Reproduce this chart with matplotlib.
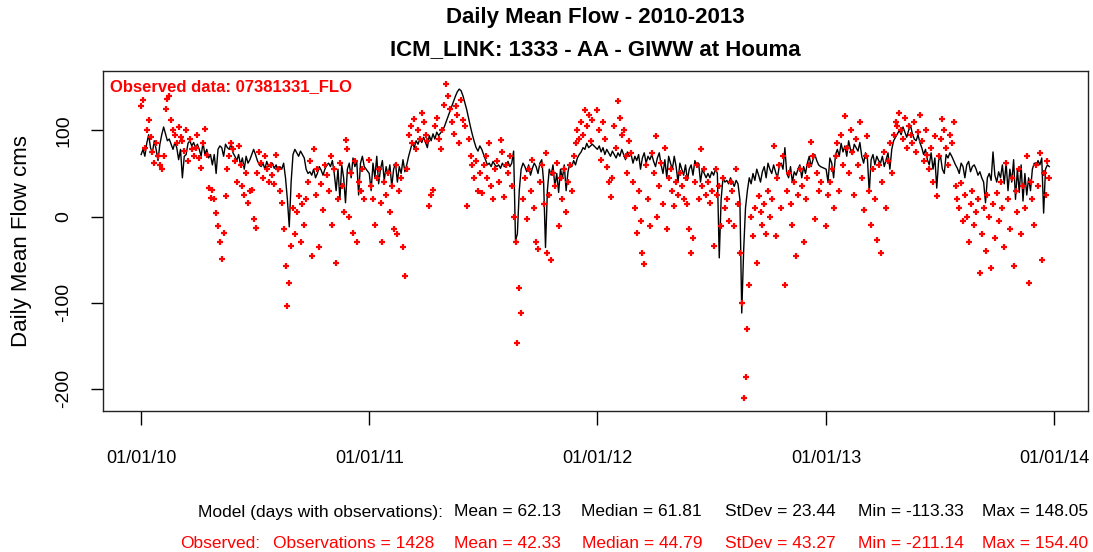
import numpy as np
import matplotlib
matplotlib.use("Agg")
import matplotlib.pyplot as plt

plt.rcParams["font.family"] = ["Liberation Sans", "DejaVu Sans"]

# Model daily mean flow (cms), read every 3 days from the picture, one list per year
model_2010 = [72, 78, 70, 85, 95, 80, 74, 88, 78, 65,
              84, 95, 104, 96, 88, 90, 84, 78, 86, 80,
              66, 78, 45, 70, 72, 85, 88, 82, 86, 80,
              84, 78, 70, 86, 72, 78, 68, 72, 60, 72,
              50, 78, 82, 80, 70, 84, 80, 78, 85, 74,
              70, 65, 72, 60, 68, 55, 70, 62, 66, 72,
              78, 72, 65, 60, 58, 62, 55, 64, 58, 60,
              62, 56, 60, 52, 58, 55, 62, 45, 20, -12,
              40, 72, 78, 74, 70, 76, 72, 68, 55, 50,
              52, 48, 55, 45, 50, 58, 54, 48, 55, 60,
              62, 58, 65, 50, 30, 55, 20, 60, 45, 16,
              55, 62, 45, 68, 58, 64, 25, 62, 70, 58, 55]
model_2011 = [50, 30, 62, 45, 70, 38, 55, 65, 42, 58,
              48, 60, 35, 55, 62, 40, 58, 50, 66,
              52, 60, 70, 78, 86, 80, 88, 84, 90, 86,
              92, 86, 80, 94, 88, 96, 90, 98, 94, 97,
              100, 104, 110, 116, 122, 128, 134, 140, 145, 148,
              146, 140, 132, 124, 114, 104, 95, 87, 80, 76,
              82, 78, 72, 66, 60, 62, 58, 64, 60, 58,
              60, 56, 62, 58, 60, 64, 58, 62, 76, -28,
              -20, 30, 55, 62, 58, 52, 60, 48, 56, 62,
              58, 50, 62, 66, 40, -36, 30, 55, 48, 60,
              35, 50, 28, 55, 44, 60, 30, 52, 62, 58,
              65, 60, 68, 72, 75, 80, 78, 85, 80, 82, 84]
model_2012 = [78, 82, 75, 80, 72, 78, 74, 70, 76, 72,
              68, 74, 70, 78, 72, 66, 75, 70, 72,
              62, 70, 65, 72, 55, 68, 74, 62, 70, 66,
              72, 64, 58, 68, 74, 60, 50, 66, 45, 70,
              62, 55, 70, 58, 40, 62, 55, 48, 60, 42,
              55, 60, 48, 65, 58, 62, 40, 55, 50, 45,
              50, 45, 52, 48, 55, 50, -48, 20, 45, 40,
              42, 38, 45, 40, 35, 42, 38, 20, -112, -40,
              10, 30, 45, 38, 50, 42, 55, 48, 40, 52,
              58, 45, 62, 55, 50, 60, 52, 45, 58, 62,
              55, 80, 50, 45, 58, 40, 52, 48, 55, 60,
              45, 58, 50, 62, 70, 58, 66, 72, 65, 60, 58]
model_2013 = [55, 40, 68, 62, 45, 72, 78, 70, 85, 75,
              82, 70, 88, 78, 72, 84, 80, 76, 86,
              70, 62, 74, 68, 28, 66, 72, 60, 70, 65,
              62, 70, 58, 66, 74, 55, 78, 88, 92, 96,
              100, 95, 104, 98, 92, 100, 106, 96, 90, 88,
              95, 86, 80, 72, 78, 66, 60, 74, 55, 68,
              33, 65, 70, 55, 50, 72, 68, 74, 70, 65,
              60, 56, 50, 62, 58, 45, 60, 64, 52, 58,
              60, 55, 48, 52, 45, 40, 16, 45, 50, 42,
              75, 48, 40, 52, 45, 60, 38, 62, 30, 55,
              40, 66, 20, 55, 28, 60, 18, 50, 25, 45,
              30, 55, 62, 58, 65, 60, 68, 4, 55, 60, 58]

# Observed daily mean flow (cms), read every 3 days from the picture
obs_2010 = [128, 135, 80, 100, 112, 92, 75, 62, 85, 70,
            60, 55, 70, 125, 136, 140, 112, 100, 95,
            85, 104, 92, 88, 76, 100, 64, 90, 78, 70,
            80, 95, 68, 56, 85, 102, 72, 33, 22, 31,
            20, 4, -11, -30, -49, -19, 24, 55, 70, 85,
            78, 65, 40, 82, 60, 35, 25, 50, 16, 30,
            31, -3, -13, 50, 75, 62, 45, 70, 55, 40,
            60, 48, 38, 72, 55, 30, 16, -15, -58, -104,
            -77, -34, 10, -20, 5, 24, -30, 15, -10, 20,
            40, 65, -46, 78, 25, 55, -35, 38, 8, 60,
            48, 30, 70, -10, 55, -54, 20, 62, 35, 5,
            89, 78, 0, 50, -19, 65, -29, 40, 30, 55, 20]
obs_2011 = [66, 35, 20, -10, 45, 55, 16, -30, 40, 25,
            50, 5, 35, -15, 60, -20, 30, 45, -35,
            -69, 55, 95, 105, 85, 113, 78, 100, 90, 120,
            110, 95, 88, 12, 25, 31, 105, 115, 90, 78,
            100, 130, 154, 140, 125, 110, 96, 128, 118, 85,
            135, 112, 105, 12, 90, 70, 60, 45, 65, 30,
            50, 27, 60, 70, 45, 85, 35, 20, 55, 65,
            40, 89, 75, 23, 60, 50, 70, 35, 0, -30,
            -147, -83, -112, 20, 45, -3, 55, 30, 66, 10,
            -30, -38, 40, 60, 15, 74, -42, 25, -50, 50,
            35, 62, -11, 45, 20, 55, 5, 40, 60, 30,
            70, 85, 100, 90, 110, 95, 124, 105, 118, 88, 112]
obs_2012 = [124, 100, 66, 110, 90, 58, 40, 23, 45, 105,
            80, 134, 115, 95, 100, 70, 50, 88, 74,
            40, 10, -19, 30, -5, -42, -55, 60, 20, -11,
            74, 50, 93, 0, 35, 62, 15, 80, -15, 45,
            55, 30, 12, 40, 25, 50, 35, 20, 45, 15,
            -15, -42, -25, 40, 60, 20, 78, 35, 55, 25,
            40, 16, 30, -34, 55, 25, 35, -11, 45, 10,
            20, -5, 40, 30, -11, 55, 15, -42, -100, -211,
            -186, -131, -79, 0, -23, 10, -54, 24, 5, -10,
            15, -20, 30, 0, 20, 82, -23, 45, 60, 10,
            70, -79, 30, 50, 15, -10, 40, -46, 25, 55,
            35, -30, 20, 45, 60, 86, 70, -3, 50, 30, 40]
obs_2013 = [-11, 25, 40, 55, 10, 70, 85, 30, 95, 60,
            117, 80, 50, 100, 75, 25, 90, 60, 110,
            45, 8, 70, 93, 30, -10, 55, 20, -27, 60,
            -42, 40, 75, 10, 65, 85, 50, 95, 110, 105,
            120, 100, 90, 115, 80, 105, 95, 85, 110, 75,
            98, 118, 88, 65, 100, 72, 55, 80, 40, 93,
            24, 70, 90, 113, 100, 80, 60, 95, 85, 110,
            35, 20, 10, 39, -5, 25, 0, -30, 15, 30,
            -10, 5, 20, -65, -20, 10, -40, 25, 0, -60,
            15, -25, 27, -5, 40, 10, -35, 62, 20, -15,
            45, -58, 30, 5, 55, -20, 35, 10, 70, -77,
            40, 20, -10, 60, 35, 74, -50, 50, 25, 65, 45]

years = ["2010", "2011", "2012", "2013"]
model_by_year = [model_2010, model_2011, model_2012, model_2013]
obs_by_year = [obs_2010, obs_2011, obs_2012, obs_2013]
step_days = 3

tick_dates = ["2010-01-01", "2011-01-01", "2012-01-01", "2013-01-01", "2014-01-01"]
tick_labels = ["01/01/10", "01/01/11", "01/01/12", "01/01/13", "01/01/14"]

model_stats = [("Mean = 62.13", 561), ("Median = 61.81", 702), ("StDev = 23.44", 836),
               ("Min = -113.33", 964), ("Max = 148.05", 1088)]
obs_stats = [("Mean = 42.33", 561), ("Median = 44.79", 702), ("StDev = 43.27", 836),
             ("Min = -211.14", 964), ("Max = 154.40", 1088)]


def year_dates(year, n):
    return np.datetime64(year + "-01-01") + step_days * np.arange(n).astype("timedelta64[D]")


m_dates = np.concatenate([year_dates(y, len(v)) for y, v in zip(years, model_by_year)])
m_vals = np.concatenate([np.array(v, float) for v in model_by_year])
o_dates = np.concatenate([year_dates(y, len(v)) for y, v in zip(years, obs_by_year)])
o_vals = np.concatenate([np.array(v, float) for v in obs_by_year])

W, H = 1093, 552
fig = plt.figure(figsize=(W / 100, H / 100), dpi=100)
ax = fig.add_axes([103 / W, 1 - 411 / H, 985 / W, 340 / H])

ax.plot(m_dates, m_vals, color="black", lw=1.0, zorder=2)
ax.plot(o_dates, o_vals, ls="none", marker="+", ms=4.5, mew=1.6, color="red", zorder=3)

start = np.datetime64("2010-01-01")
ax.set_xlim(start - np.timedelta64(61, "D"), np.datetime64("2014-01-01") + np.timedelta64(54, "D"))
ax.set_ylim(-225.8, 169.0)

ax.set_xticks(np.array(tick_dates, dtype="datetime64[D]"))
ax.set_xticklabels(tick_labels)
ax.set_yticks([-200, -100, 0, 100])
ax.set_yticklabels(["-200", "-100", "0", "100"], rotation=90, va="center", fontsize=14)
ax.tick_params(axis="x", direction="out", length=10, width=1, pad=18, labelsize=13)
ax.tick_params(axis="y", direction="out", length=9, width=1, pad=13)
for s in ax.spines.values():
    s.set_linewidth(1.0)
    s.set_color("#222222")

ax.set_ylabel("Daily Mean Flow cms", fontsize=16)
ax.yaxis.set_label_coords(-0.072, 0.5)

ax.text(7 / 985, 1 - 16 / 340, "Observed data: 07381331_FLO", transform=ax.transAxes,
        color="red", fontsize=12, fontweight="bold", ha="left", va="center")

cx = (103 + 1088) / 2 / W
fig.text(cx, 1 - 17 / H, "Daily Mean Flow - 2010-2013", ha="center", va="center",
         fontsize=16, fontweight="bold")
fig.text(cx, 1 - 50 / H, "ICM_LINK: 1333 - AA - GIWW at Houma", ha="center", va="center",
         fontsize=16, fontweight="bold")

y1, y2 = 1 - 512 / H, 1 - 543 / H
fs = 12.5
fig.text(443 / W, y1, "Model (days with observations):", ha="right", va="center", fontsize=fs)
for txt, xr in model_stats:
    fig.text(xr / W, y1, txt, ha="right", va="center", fontsize=fs)
fig.text(260 / W, y2, "Observed:", ha="right", va="center", fontsize=fs, color="red")
fig.text(434 / W, y2, "Observations = 1428", ha="right", va="center", fontsize=fs, color="red")
for txt, xr in obs_stats:
    fig.text(xr / W, y2, txt, ha="right", va="center", fontsize=fs, color="red")

fig.savefig("out.png", dpi=100)
